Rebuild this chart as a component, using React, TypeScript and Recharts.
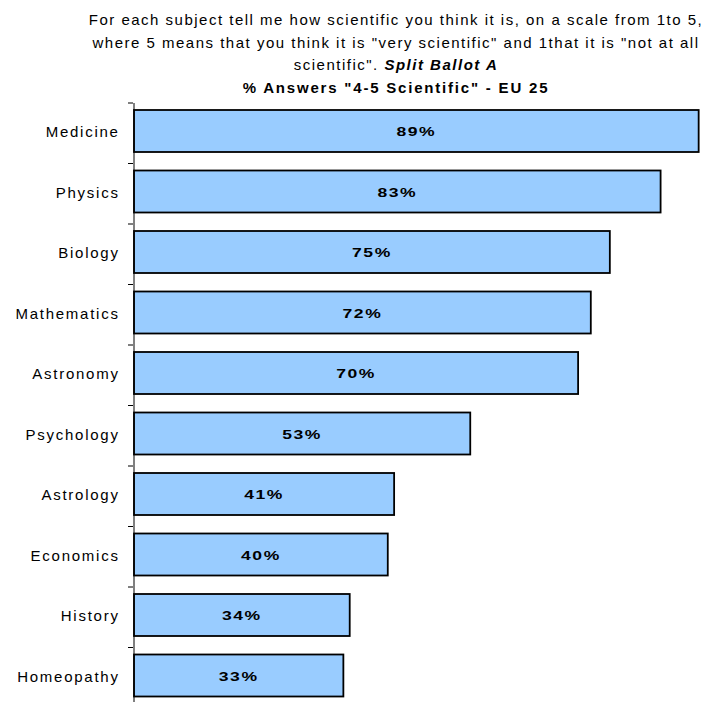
import React from "react";
import { BarChart, Bar, XAxis, YAxis, LabelList } from "recharts";

const subjects = ["Medicine", "Physics", "Biology", "Mathematics", "Astronomy", "Psychology", "Astrology", "Economics", "History", "Homeopathy"];
const scientificPct = [89, 83, 75, 72, 70, 53, 41, 40, 34, 33];
const xDomainMax = 90;
const titleLines = [
  "For each subject tell me how scientific you think it is, on a scale from 1to 5,",
  "where 5 means that you think it is \"very scientific\" and 1that it is \"not at all",
];
const titleLine3 = "scientific\". ";
const titleBallot = "Split Ballot A";
const subtitle = "% Answers \"4-5 Scientific\" - EU 25";

const data = subjects.map((s, i) => ({ subject: s, value: scientificPct[i] }));

const FONT = "'Liberation Sans', Arial, sans-serif";
const CHART_H = 720;
const TOP = 103;
const BOTTOM = 12;
const BAND = (CHART_H - TOP - BOTTOM) / subjects.length;
const BAR_SHIFT = -2;

const CategoryTick = (props: any) => {
  const { x, y, payload } = props;
  const ax = x + 15; // axis line position
  return (
    <g>
      <line x1={ax - 5} x2={ax} y1={y - BAND / 2} y2={y - BAND / 2} stroke="#000" strokeWidth={1} />
      <text x={x + 1.7} y={y} dy={4} textAnchor="end" fontFamily={FONT} fontSize={15} letterSpacing={1.75} fill="#000">
        {payload.value}
      </text>
    </g>
  );
};

const BarShape = (props: any) => {
  const { x, y, width, height } = props;
  return <rect x={x} y={y + BAR_SHIFT} width={width} height={height} fill="#99CCFF" stroke="#000" strokeWidth={1.8} />;
};

const ValueLabel = (props: any) => {
  const { x, y, width, height, value } = props;
  const cx = x + width / 2;
  const cy = y + height / 2 + BAR_SHIFT;
  return (
    <text
      transform={`translate(${cx},${cy}) scale(1.3,1)`}
      x={0}
      y={0}
      dy={5}
      textAnchor="middle"
      fontFamily={FONT}
      fontSize={13.5}
      fontWeight="bold"
      letterSpacing={1.2}
      fill="#000"
    >
      {`${value}%`}
    </text>
  );
};

const lineStyle: React.CSSProperties = {
  position: "absolute",
  left: 0,
  width: 792,
  textAlign: "center",
  whiteSpace: "nowrap",
  fontSize: 15,
  lineHeight: "22.5px",
  letterSpacing: 1.5,
  color: "#000",
};

export default function App() {
  return (
    <div style={{ position: "absolute", left: 0, top: 0, width: 709, height: 702, overflow: "hidden", background: "#fff", fontFamily: FONT }}>
      <div style={{ ...lineStyle, top: 9 }}>{titleLines[0]}</div>
      <div style={{ ...lineStyle, top: 31.5 }}>{titleLines[1]}</div>
      <div style={{ ...lineStyle, top: 54 }}>
        {titleLine3}
        <b><i>{titleBallot}</i></b>
      </div>
      <div style={{ ...lineStyle, top: 76.5, fontWeight: "bold", letterSpacing: 1.8 }}>{subtitle}</div>
      <div style={{ position: "absolute", left: 0, top: 0 }}>
        <BarChart
          width={709}
          height={CHART_H}
          data={data}
          layout="vertical"
          margin={{ top: TOP, right: 4, bottom: BOTTOM, left: 0 }}
          barSize={42}
        >
          <XAxis type="number" domain={[0, xDomainMax]} hide />
          <YAxis
            type="category"
            dataKey="subject"
            width={134}
            axisLine={{ stroke: "#000", strokeWidth: 1 }}
            tickLine={false}
            tick={<CategoryTick />}
            tickMargin={10}
            interval={0}
          />
          <Bar dataKey="value" fill="#99CCFF" stroke="#000" shape={<BarShape />} isAnimationActive={false}>
            <LabelList dataKey="value" content={<ValueLabel />} />
          </Bar>
        </BarChart>
      </div>
    </div>
  );
}
